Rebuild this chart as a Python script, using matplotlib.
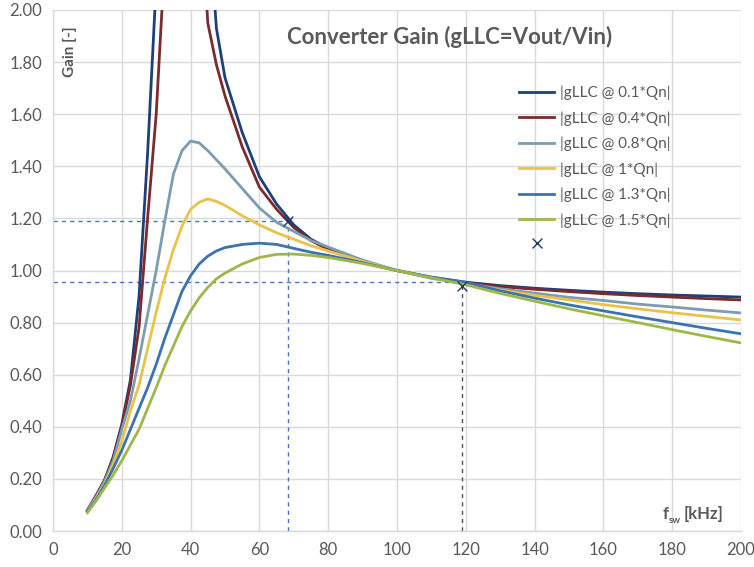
import matplotlib
matplotlib.use("Agg")
import matplotlib.pyplot as plt

# ---- data ----
freq = [10, 12.5, 15, 17.5, 20, 22.5, 25, 27.5, 30, 32.5, 35, 37.5, 40, 42.5, 45, 47.5, 50,
        55, 60, 65, 70, 75, 80, 90, 100, 110, 120, 130, 140, 150, 160, 170, 180, 190, 200]

g_01 = [0.08, 0.135, 0.195, 0.285, 0.41, 0.58, 0.90, 1.45, 2.10, 3.3, 5.0, 8.0, 7.0, 3.6, 2.4, 1.93, 1.74,
        1.53, 1.36, 1.255, 1.175, 1.12, 1.085, 1.035, 1.0, 0.973, 0.955, 0.942, 0.932, 0.924, 0.917, 0.911, 0.906, 0.902, 0.898]
g_04 = [0.08, 0.135, 0.195, 0.28, 0.40, 0.56, 0.78, 1.20, 1.60, 2.20, 3.2, 3.8, 3.4, 2.5, 1.95, 1.79, 1.67,
        1.475, 1.32, 1.235, 1.165, 1.115, 1.08, 1.03, 1.0, 0.972, 0.953, 0.938, 0.928, 0.919, 0.911, 0.904, 0.898, 0.892, 0.887]
g_08 = [0.08, 0.13, 0.19, 0.27, 0.39, 0.50, 0.66, 0.83, 1.00, 1.19, 1.37, 1.46, 1.497, 1.49, 1.46, 1.425, 1.39,
        1.315, 1.24, 1.185, 1.15, 1.115, 1.09, 1.04, 1.0, 0.97, 0.95, 0.93, 0.913, 0.897, 0.885, 0.871, 0.86, 0.848, 0.837]
g_10 = [0.075, 0.125, 0.18, 0.255, 0.345, 0.46, 0.56, 0.70, 0.84, 0.97, 1.08, 1.17, 1.235, 1.262, 1.275, 1.265, 1.25,
        1.21, 1.175, 1.145, 1.12, 1.095, 1.075, 1.035, 1.0, 0.972, 0.952, 0.925, 0.905, 0.887, 0.869, 0.853, 0.838, 0.824, 0.81]
g_13 = [0.075, 0.12, 0.175, 0.24, 0.31, 0.39, 0.47, 0.55, 0.64, 0.74, 0.83, 0.92, 0.98, 1.025, 1.055, 1.075, 1.088,
        1.10, 1.105, 1.10, 1.085, 1.07, 1.058, 1.03, 1.0, 0.975, 0.955, 0.922, 0.894, 0.868, 0.845, 0.822, 0.80, 0.778, 0.757]
g_15 = [0.07, 0.115, 0.165, 0.215, 0.27, 0.33, 0.39, 0.47, 0.55, 0.635, 0.71, 0.785, 0.845, 0.895, 0.935, 0.968, 0.99,
        1.025, 1.05, 1.062, 1.063, 1.058, 1.05, 1.027, 1.0, 0.972, 0.945, 0.912, 0.882, 0.853, 0.826, 0.80, 0.773, 0.747, 0.722]

series_labels = ["|gLLC @ 0.1*Qn|", "|gLLC @ 0.4*Qn|", "|gLLC @ 0.8*Qn|",
                 "|gLLC @ 1*Qn|", "|gLLC @ 1.3*Qn|", "|gLLC @ 1.5*Qn|"]
series_values = [g_01, g_04, g_08, g_10, g_13, g_15]
colors = ["#1F3F78", "#7B2A2E", "#7B9CB1", "#EAC24A", "#3A73B0", "#9DB84A"]

# operating points
op_f = [68.4, 118.8, 140.7]
op_g = [1.19, 0.942, 1.105]
ref1_f, ref1_g = 68.4, 1.19
ref2_f, ref2_g = 118.8, 0.957

x_ticks = [0, 20, 40, 60, 80, 100, 120, 140, 160, 180, 200]
y_ticks = [0.0, 0.2, 0.4, 0.6, 0.8, 1.0, 1.2, 1.4, 1.6, 1.8, 2.0]

txt = "#595959"
plt.rcParams['font.family'] = ['Lato', 'DejaVu Sans']

fig = plt.figure(figsize=(7.54, 5.67), dpi=100)
ax = fig.add_axes([53/754, 1-531/567, (741-53)/754, (531-10)/567])

for vals, c, lab in zip(series_values, colors, series_labels):
    ax.plot(freq, vals, color=c, lw=2.0, label=lab, solid_joinstyle='round', zorder=3)

# reference dashed lines
ax.plot([0, ref1_f], [ref1_g, ref1_g], ls=(0, (3, 3)), color="#4472C4", lw=1.0, zorder=2)
ax.plot([ref1_f, ref1_f], [0, ref1_g], ls=(0, (3, 3)), color="#4472C4", lw=1.0, zorder=2)
ax.plot([0, ref2_f], [ref2_g, ref2_g], ls=(0, (3, 3)), color="#4472C4", lw=1.0, zorder=2)
ax.plot([ref2_f, ref2_f], [0, ref2_g], ls=(0, (3, 3)), color="#44546A", lw=1.0, zorder=2)

ax.scatter(op_f, op_g, marker='x', s=50, color="#203864", linewidths=1.0, zorder=5)

ax.set_xlim(0, 200)
ax.set_ylim(0, 2.0)
ax.set_xticks(x_ticks)
ax.set_yticks(y_ticks)
ax.set_yticklabels([f"{v:.2f}" for v in y_ticks])
ax.tick_params(length=0, labelsize=12, labelcolor=txt, pad=8)
ax.grid(True, color="#D9D9D9", lw=1.0, zorder=0)
ax.set_axisbelow(True)
for s in ["top", "right"]:
    ax.spines[s].set_visible(False)
for s in ["left", "bottom"]:
    ax.spines[s].set_color("#D9D9D9")
    ax.spines[s].set_linewidth(1.0)

fig.text(450/754, 1-37/567, "Converter Gain (gLLC=Vout/Vin)", ha='center', va='center',
         fontsize=16, fontweight='bold', color=txt)
fig.text(70/754, 1-52/567, "Gain [-]", rotation=90, ha='center', va='center',
         fontsize=11, fontweight='bold', color=txt)
fig.text(663/754, 1-519/567, "f", ha='left', va='baseline', fontsize=12, fontweight='bold', color=txt)
fig.text(669/754, 1-523/567, "sw", ha='left', va='baseline', fontsize=7, fontweight='bold', color=txt)
fig.text(684/754, 1-519/567, "[kHz]", ha='left', va='baseline', fontsize=12, fontweight='bold', color=txt)

leg = ax.legend(loc='upper left', bbox_to_anchor=(505/754, 1-72/567), bbox_transform=fig.transFigure,
                frameon=False, fontsize=11, handlelength=2.3, handletextpad=0.4, labelspacing=0.72)
for t in leg.get_texts():
    t.set_color(txt)

fig.savefig("out.png", dpi=100)
